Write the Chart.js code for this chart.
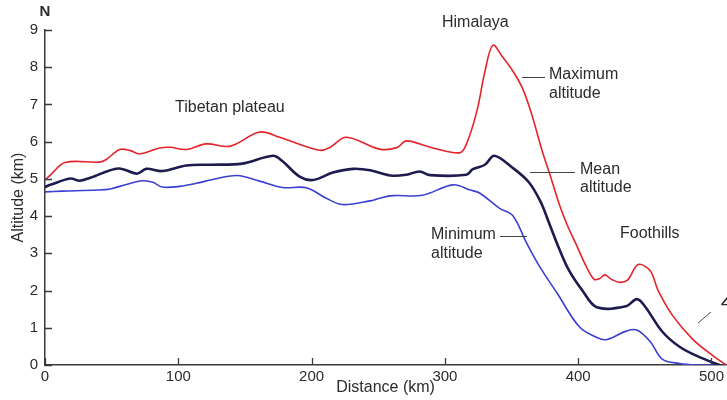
<!DOCTYPE html>
<html>
<head>
<meta charset="utf-8">
<script src="https://cdn.jsdelivr.net/npm/chart.js@4.4.1/dist/chart.umd.min.js"></script>
<style>
    body { margin: 0; background: #fff; }
    #wrap { width: 727px; height: 400px; }
</style>
</head>
<body>
<div id="wrap"><canvas id="profileChart"></canvas></div>
<script>
/* DATA - distance along the profile (km) and altitude (km) */
const xTicks = [0, 100, 200, 300, 400, 500];
const yTicks = [0, 1, 2, 3, 4, 5, 6, 7, 8, 9];

const maxDist = [0, 4, 15, 41, 46, 56, 64, 71, 86, 94, 106, 121, 139, 161, 176, 206, 214, 226, 251, 264, 271, 289, 311, 316, 324, 330, 336, 343, 350, 358, 365, 373, 380, 386, 392, 399, 406, 412, 416, 420, 425, 431, 437, 445, 454, 460, 471, 486, 501, 511];
const maxAlt = [4.97, 5.1, 5.44, 5.45, 5.52, 5.79, 5.76, 5.67, 5.83, 5.85, 5.79, 5.94, 5.88, 6.26, 6.12, 5.77, 5.85, 6.12, 5.8, 5.84, 6.02, 5.85, 5.7, 5.92, 6.82, 7.88, 8.59, 8.29, 7.95, 7.45, 6.75, 5.75, 4.98, 4.3, 3.74, 3.2, 2.65, 2.3, 2.32, 2.42, 2.3, 2.22, 2.28, 2.7, 2.53, 2.0, 1.32, 0.69, 0.25, 0.0];

const meanDist = [0, 4, 19, 26, 34, 55, 69, 76, 88, 106, 124, 148, 171, 178, 191, 201, 216, 231, 244, 259, 271, 281, 289, 316, 321, 330, 337, 350, 363, 372, 378, 386, 393, 403, 414, 436, 444, 450, 463, 476, 491, 506];
const meanAlt = [4.78, 4.84, 5.01, 4.95, 5.03, 5.28, 5.14, 5.27, 5.21, 5.36, 5.38, 5.41, 5.62, 5.48, 5.06, 4.97, 5.17, 5.27, 5.23, 5.09, 5.11, 5.2, 5.1, 5.11, 5.26, 5.38, 5.62, 5.32, 4.91, 4.37, 3.83, 3.1, 2.55, 2.01, 1.55, 1.58, 1.77, 1.58, 0.9, 0.49, 0.21, 0.0];

const minDist = [0, 13, 39, 49, 61, 73, 81, 88, 101, 116, 124, 144, 161, 178, 196, 211, 223, 244, 251, 261, 283, 306, 319, 326, 341, 351, 361, 371, 384, 401, 414, 421, 436, 444, 454, 463, 476, 489, 501];
const minAlt = [4.65, 4.67, 4.7, 4.73, 4.85, 4.95, 4.91, 4.78, 4.8, 4.9, 4.97, 5.09, 4.94, 4.77, 4.76, 4.48, 4.31, 4.41, 4.48, 4.55, 4.56, 4.84, 4.7, 4.62, 4.21, 4.01, 3.3, 2.65, 1.94, 1.02, 0.74, 0.68, 0.91, 0.94, 0.63, 0.16, 0.04, 0.0, 0.0];

const xMax = 511;
const yMax = 9;

const textColor = "#2b2b2b";
const axisColor = "#3a3a3a";
const fontFamily = "'Liberation Sans', Arial, Helvetica, sans-serif";

function toPoints(xs, ys) {
    return xs.map((x, i) => ({ x: x, y: ys[i] }));
}

/* text labels drawn on top of the chart (pixel positions) */
const notes = [
    { text: "Himalaya", x: 442, y: 23 },
    { text: "Tibetan plateau", x: 175, y: 108 },
    { text: "Maximum", x: 549, y: 75 },
    { text: "altitude", x: 549, y: 94 },
    { text: "Mean", x: 580, y: 170 },
    { text: "altitude", x: 580, y: 188 },
    { text: "Minimum", x: 431, y: 235 },
    { text: "altitude", x: 431, y: 254 },
    { text: "Foothills", x: 620, y: 234 }
];

const leaders = [
    [522, 77, 545, 77],
    [530, 172, 575, 172],
    [500, 236, 527, 236]
];

const extras = {
    id: "extras",
    afterDraw(chart) {
        const ctx = chart.ctx;
        const xs = chart.scales.x;
        const ys = chart.scales.y;
        const a = chart.chartArea;

        ctx.save();

        // inward tick marks
        ctx.strokeStyle = axisColor;
        ctx.lineWidth = 1.3;
        ctx.beginPath();
        xTicks.forEach(v => {
            const px = Math.round(xs.getPixelForValue(v)) + 0.5;
            ctx.moveTo(px, a.bottom);
            ctx.lineTo(px, a.bottom - 7);
        });
        yTicks.forEach(v => {
            const py = Math.round(ys.getPixelForValue(v)) + 0.5;
            ctx.moveTo(a.left, py);
            ctx.lineTo(a.left + 7, py);
        });
        ctx.stroke();

        // leader lines
        ctx.strokeStyle = "#444";
        ctx.lineWidth = 1;
        ctx.beginPath();
        leaders.forEach(l => {
            ctx.moveTo(l[0], l[1] + 0.5);
            ctx.lineTo(l[2], l[3] + 0.5);
        });
        ctx.moveTo(698, 323);
        ctx.lineTo(711, 312);
        ctx.stroke();

        // annotations
        ctx.fillStyle = textColor;
        ctx.textBaseline = "middle";
        ctx.textAlign = "left";
        ctx.font = "16px " + fontFamily;
        notes.forEach(n => ctx.fillText(n.text, n.x, n.y));

        ctx.font = "bold 15px " + fontFamily;
        ctx.textAlign = "center";
        ctx.fillText("N", 45, 12);

        ctx.font = "italic 20px " + fontFamily;
        ctx.textAlign = "left";
        ctx.fillText("4", 721, 302);

        ctx.restore();
    }
};

new Chart(document.getElementById("profileChart"), {
    type: "line",
    data: {
        datasets: [{
            label: "Maximum altitude",
            data: toPoints(maxDist, maxAlt),
            borderColor: "#e4232b",
            borderWidth: 1.6
        }, {
            label: "Mean altitude",
            data: toPoints(meanDist, meanAlt),
            borderColor: "#1e1b4e",
            borderWidth: 2.6
        }, {
            label: "Minimum altitude",
            data: toPoints(minDist, minAlt),
            borderColor: "#3b3fd2",
            borderWidth: 1.6
        }]
    },
    options: {
        responsive: true,
        maintainAspectRatio: false,
        animation: false,
        events: [],
        layout: { padding: { top: 30, right: 0, left: 0, bottom: 0 } },
        elements: {
            point: { radius: 0 },
            line: { tension: 0.35, borderJoinStyle: "round", borderCapStyle: "round" }
        },
        plugins: {
            legend: { display: false },
            tooltip: { enabled: false }
        },
        scales: {
            x: {
                type: "linear",
                min: 0,
                max: xMax,
                afterBuildTicks: s => { s.ticks = xTicks.map(v => ({ value: v })); },
                afterFit: s => { s.height = 35; },
                grid: { display: false, drawTicks: false },
                border: { display: true, color: axisColor, width: 1.5 },
                ticks: {
                    padding: 3,
                    color: textColor,
                    font: { family: fontFamily, size: 15 }
                },
                title: {
                    display: true,
                    text: "Distance (km)",
                    color: textColor,
                    font: { family: fontFamily, size: 16 },
                    padding: { top: 0, bottom: 2.5 }
                }
            },
            y: {
                min: 0,
                max: yMax,
                afterBuildTicks: s => { s.ticks = yTicks.map(v => ({ value: v })); },
                afterFit: s => { s.width = 45; },
                grid: { display: false, drawTicks: false },
                border: { display: true, color: axisColor, width: 1.5 },
                ticks: {
                    padding: 7,
                    color: textColor,
                    font: { family: fontFamily, size: 15 }
                },
                title: {
                    display: true,
                    text: "Altitude (km)",
                    color: textColor,
                    font: { family: fontFamily, size: 16 },
                    padding: { top: 9, bottom: 0 }
                }
            }
        }
    },
    plugins: [extras]
});
</script>
</body>
</html>
